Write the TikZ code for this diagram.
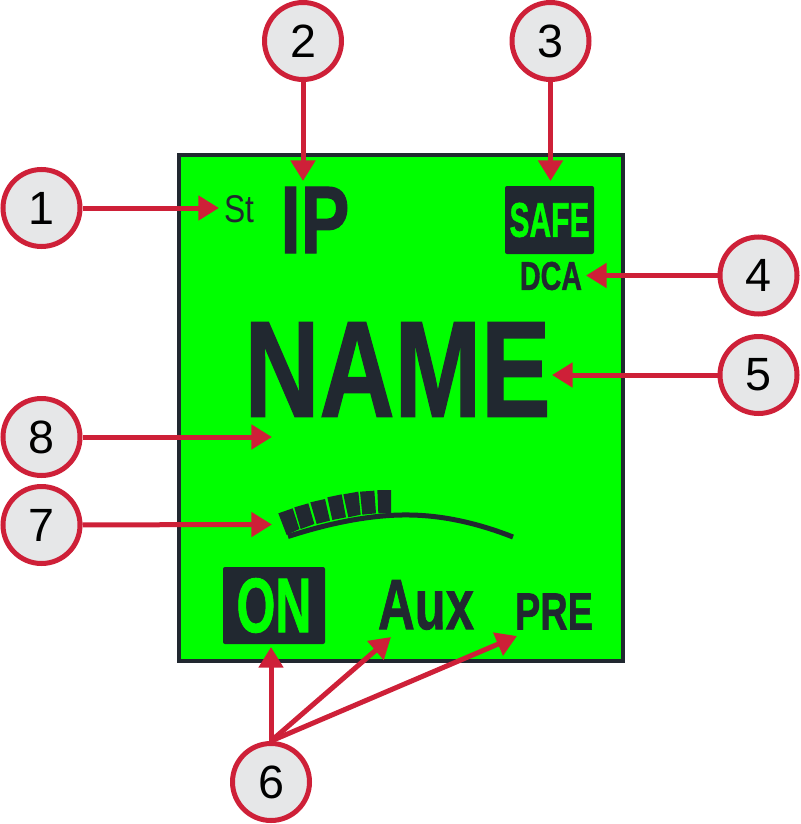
\documentclass[tikz,border=0pt]{standalone}
\usepackage{graphicx}
\usepackage{fontspec}
\setmainfont{Liberation Sans}
\newfontfamily\lcdfont[BoldFeatures={FakeBold=1.2}]{Liberation Sans}
\usetikzlibrary{positioning, arrows.meta, shapes.geometric}
\definecolor{calloutRed}{RGB}{206,32,56}
\definecolor{lcdDark}{RGB}{33,40,48}
\definecolor{lcdGreen}{RGB}{0,255,0}
\definecolor{calloutGrey}{RGB}{230,231,232}
\newlength\pxunit
\setlength\pxunit{.75pt}
\newcommand{\lcdtext}[3]{\resizebox{#1\pxunit}{#2\pxunit}{\lcdfont\bfseries #3}}
\tikzset{
	callout/.style={draw=calloutRed, circle, line width=3.75pt, fill=calloutGrey, minimum size=57.75pt, inner sep=0pt, text=black, font=\fontsize{35}{35}\selectfont},
	calloutArrow/.style={draw=calloutRed, line width=3.75pt, -{Triangle[length=15.5pt, width=18pt, color=calloutRed]}},
	lcdLabel/.style={inner sep=0pt, text=lcdDark},
	lcdBadge/.style={inner sep=0pt, fill=lcdDark, text=lcdGreen, rounded corners=1.5pt}
}
\begin{document}
\begin{tikzpicture}[x=.75pt, y=-.75pt]
	\useasboundingbox (0,0) rectangle (800,824);

	\node (screen) at (400.5,407.5) [draw=lcdDark, line width=3pt, fill=lcdGreen, rectangle, minimum width=333pt, minimum height=379.5pt, inner sep=0pt]{};

	\node (stLabel) at (239,209.5) [lcdLabel]{\resizebox{30\pxunit}{27\pxunit}{St}};
	\node (ipLabel) at (315,220) [lcdLabel]{\lcdtext{69}{66}{IP}};
	\node (safeBadge) at (549.5,220) [lcdBadge, minimum width=66.75pt, minimum height=51pt]{\lcdtext{80}{34}{SAFE}};
	\node (dcaLabel) at (551,276) [lcdLabel]{\lcdtext{62}{28}{DCA}};
	\node (nameLabel) at (397.5,369.5) [lcdLabel]{\lcdtext{306}{94}{NAME}};
	\node (onBadge) at (274,605.5) [lcdBadge, minimum width=76.5pt, minimum height=57.75pt]{\lcdtext{75}{54}{ON}};
	\node (auxLabel) at (426,605) [lcdLabel]{\lcdtext{96}{49}{Aux}};
	\node (preLabel) at (554,611.5) [lcdLabel]{\lcdtext{78}{36}{PRE}};

	\draw[lcdDark, line width=3.75pt] (288,536.5) .. controls (345,518) and (385,514.5) .. (410,515) .. controls (445,515.5) and (480,524) .. (513,537);
	\begin{scope}[shift={(170,480)}, x=.25pt, y=-.25pt]
		\foreach \ax/\ay/\bx/\by/\cx/\cy/\dx/\dy in {
			325/100/368/85/388/147/350/165,
			373/82/415/70/433/132/392/147,
			421/67/465/57/480/122/440/132,
			472/52/515/43/528/112/487/120,
			520/43/565/35/572/104/535/112,
			570/35/613/32/618/100/577/104,
			622/30/663/30/663/100/625/100}
			\fill[lcdDark] (\ax,\ay) -- (\bx,\by) -- (\cx,\cy) -- (\dx,\dy) -- cycle;
	\end{scope}

	\node (callout1) at (41.5,208) [callout]{1};
	\node (callout2) at (303,41) [callout]{2};
	\node (callout3) at (550.5,41) [callout]{3};
	\node (callout4) at (758.5,275.5) [callout]{4};
	\node (callout5) at (758.5,375) [callout]{5};
	\node (callout6) at (271,782) [callout]{6};
	\node (callout7) at (41.5,525) [callout]{7};
	\node (callout8) at (41.5,437) [callout]{8};

	\coordinate (tipSt) at (219,208);
	\coordinate (tipIp) at (303,181);
	\coordinate (tipSafe) at (550.5,181);
	\coordinate (tipDca) at (586,275.5);
	\coordinate (tipName) at (552,375);
	\coordinate (tipOn) at (271,647);
	\coordinate (tipAux) at (391,637);
	\coordinate (tipPre) at (517,636);
	\coordinate (tipMeter) at (272,524.5);
	\coordinate (tipBlank) at (272,437);

	\draw[calloutArrow] (callout1) -- (tipSt);
	\draw[calloutArrow] (callout2) -- (tipIp);
	\draw[calloutArrow] (callout3) -- (tipSafe);
	\draw[calloutArrow] (callout4) -- (tipDca);
	\draw[calloutArrow] (callout5) -- (tipName);
	\draw[calloutArrow] (callout6.north) -- (tipOn);
	\draw[calloutArrow] (callout6.north) -- (tipAux);
	\draw[calloutArrow] (callout6.north) -- (tipPre);
	\draw[calloutArrow] (callout7) -- (tipMeter);
	\draw[calloutArrow] (callout8) -- (tipBlank);
\end{tikzpicture}
\end{document}
